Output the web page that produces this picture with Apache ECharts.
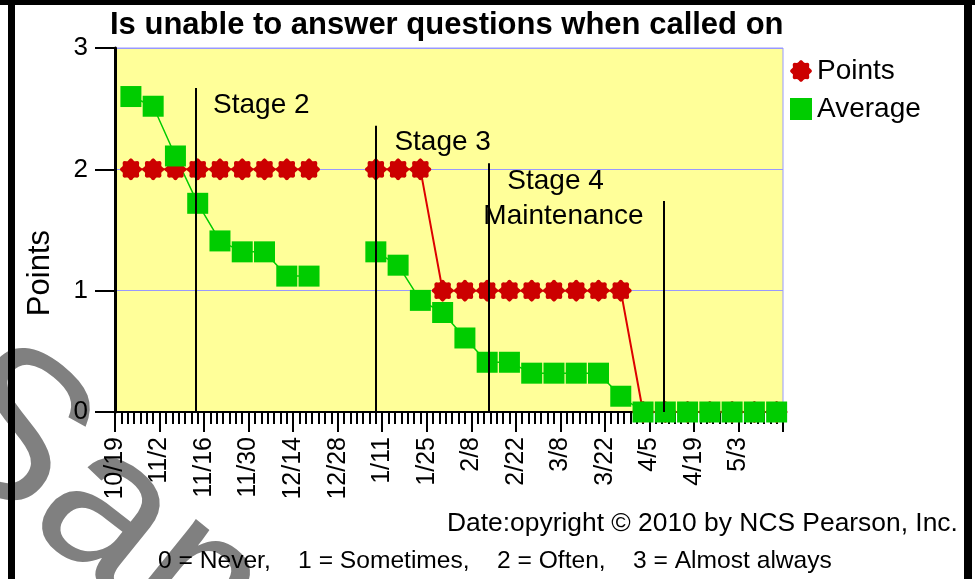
<!DOCTYPE html>
<html>
<head>
<meta charset="utf-8">
<script src="https://cdn.jsdelivr.net/npm/echarts@6/dist/echarts.min.js"></script>
<style>
  html, body { margin: 0; padding: 0; background: #fff; }
  #chart { width: 975px; height: 579px; }
</style>
</head>
<body>
<div id="chart"></div>
<script>
// days counted from 10/19
const tickLabels = ['10/19', '11/2', '11/16', '11/30', '12/14', '12/28', '1/11', '1/25', '2/8', '2/22', '3/8', '3/22', '4/5', '4/19', '5/3', '5/17']
const weekDays = [5, 12, 19, 26, 33, 40, 47, 54, 61, 68, 75, 82, 89, 96, 103, 110, 117, 124, 131, 138, 145, 152, 159, 166, 173, 180, 187, 194, 201, 208]
const pointsValues = [2, 2, 2, 2, 2, 2, 2, 2, 2, null, null, 2, 2, 2, 1, 1, 1, 1, 1, 1, 1, 1, 1, 0, 0, 0, 0, 0, 0, 0]
const averageValues = [2.6, 2.52, 2.11, 1.72, 1.41, 1.32, 1.32, 1.12, 1.12, null, null, 1.32, 1.21, 0.92, 0.82, 0.61, 0.41, 0.41, 0.32, 0.32, 0.32, 0.32, 0.13, 0, 0, 0, 0, 0, 0, 0]
const stageLines = [[25.5, 2.67], [82, 2.36], [117.5, 2.05], [172.5, 1.74]]
const stageLabels = [['Stage 2', 46, 2.53], ['Stage 3', 103, 2.22], ['Stage 4', 138.5, 1.9], ['Maintenance', 141, 1.61]]

const FONT = 'Arial, "Liberation Sans", sans-serif'

// bumpy round marker like the original red dots
const gearPath = (() => {
    const pts = []
    for (let i = 0; i < 48; i++) {
        const a = (i / 48) * Math.PI * 2
        const r = 0.9 + 0.1 * Math.cos(8 * a)
        pts.push((1 + r * Math.cos(a)).toFixed(3) + ' ' + (1 + r * Math.sin(a)).toFixed(3))
    }
    return 'path://M' + pts.join(' L') + ' Z'
})()

const toSeries = (values) => weekDays.map((d, i) => [d, values[i] == null ? '-' : values[i]])

const chart = echarts.init(document.getElementById('chart'))

chart.setOption({
    animation: false,
    title: {
        text: 'Is unable to answer questions when called on',
        left: 110, top: 10, padding: 0,
        textStyle: { fontFamily: FONT, fontSize: 31, fontWeight: 'bold', color: '#000' }
    },
    legend: {
        orient: 'vertical', left: 790, top: 57, padding: 0,
        itemWidth: 22, itemHeight: 22, itemGap: 10,
        textStyle: { fontFamily: FONT, fontSize: 28, color: '#000' },
        data: [{ name: 'Points', icon: gearPath }, { name: 'Average', icon: 'rect' }]
    },
    grid: {
        left: 115, right: 192, top: 48, bottom: 167,
        show: true, backgroundColor: '#ffff99', borderColor: '#9999ff', borderWidth: 1
    },
    xAxis: {
        type: 'value', min: 0, max: 210, interval: 14,
        axisLine: { lineStyle: { color: '#000', width: 2 } },
        axisTick: { length: 20, lineStyle: { color: '#000', width: 2 } },
        minorTick: { show: true, splitNumber: 7, length: 12, lineStyle: { color: '#000', width: 2 } },
        splitLine: { show: false },
        axisLabel: {
            rotate: 90, margin: 25, showMaxLabel: false,
            fontFamily: FONT, fontSize: 25, color: '#000',
            formatter: (v) => tickLabels[Math.round(v / 14)] || ''
        }
    },
    yAxis: {
        type: 'value', min: 0, max: 3, interval: 1,
        axisLine: { show: true, lineStyle: { color: '#000', width: 3 } },
        axisTick: { show: true, length: 20, lineStyle: { color: '#000', width: 2 } },
        splitLine: { lineStyle: { color: '#9999ff', width: 1 } },
        axisLabel: { margin: 27, fontFamily: FONT, fontSize: 26, color: '#000' }
    },
    graphic: [
        {
            type: 'text', z: -10, x: -48, y: 390, rotation: -0.68,
            style: { text: 'Sample', font: '210px Arial, "Liberation Sans", sans-serif', fill: '#808080', textVerticalAlign: 'middle' }
        },
        {
            type: 'text', left: 25, top: 230, rotation: Math.PI / 2,
            style: { text: 'Points', font: '31px Arial, "Liberation Sans", sans-serif', fill: '#000' }
        },
        {
            type: 'text', left: 447, top: 511,
            style: { text: 'Date:opyright \u00a9 2010 by NCS Pearson, Inc.', font: '26.4px Arial, "Liberation Sans", sans-serif', fill: '#000' }
        },
        {
            type: 'text', left: 158, top: 549,
            style: { text: '0 = Never,    1 = Sometimes,    2 = Often,    3 = Almost always', font: '24.6px Arial, "Liberation Sans", sans-serif', fill: '#000' }
        },
        { type: 'rect', shape: { x: 0, y: 0, width: 975, height: 5 }, style: { fill: '#000' } },
        { type: 'rect', shape: { x: 8, y: 0, width: 7, height: 579 }, style: { fill: '#000' } },
        { type: 'rect', shape: { x: 964, y: 0, width: 8, height: 579 }, style: { fill: '#000' } }
    ],
    series: [
        {
            name: 'Points', type: 'line',
            data: toSeries(pointsValues),
            symbol: gearPath, symbolSize: 22,
            itemStyle: { color: '#cc0000' },
            lineStyle: { color: '#dd0000', width: 2 },
            markLine: {
                silent: true, symbol: 'none', label: { show: false },
                lineStyle: { color: '#000', width: 2, type: 'solid' },
                data: stageLines.map(([x, top]) => [{ coord: [x, 0] }, { coord: [x, top] }])
            },
            markPoint: {
                silent: true, symbol: 'rect', symbolSize: 1,
                itemStyle: { color: 'rgba(0,0,0,0)' },
                label: { show: true, position: 'inside', formatter: '{b}', fontFamily: FONT, fontSize: 28, color: '#000' },
                data: stageLabels.map(([name, x, y]) => ({ name, coord: [x, y] }))
            }
        },
        {
            name: 'Average', type: 'line',
            data: toSeries(averageValues),
            symbol: 'rect', symbolSize: 21,
            itemStyle: { color: '#00cc00' },
            lineStyle: { color: '#00cc00', width: 1.5 }
        }
    ]
})
</script>
</body>
</html>
